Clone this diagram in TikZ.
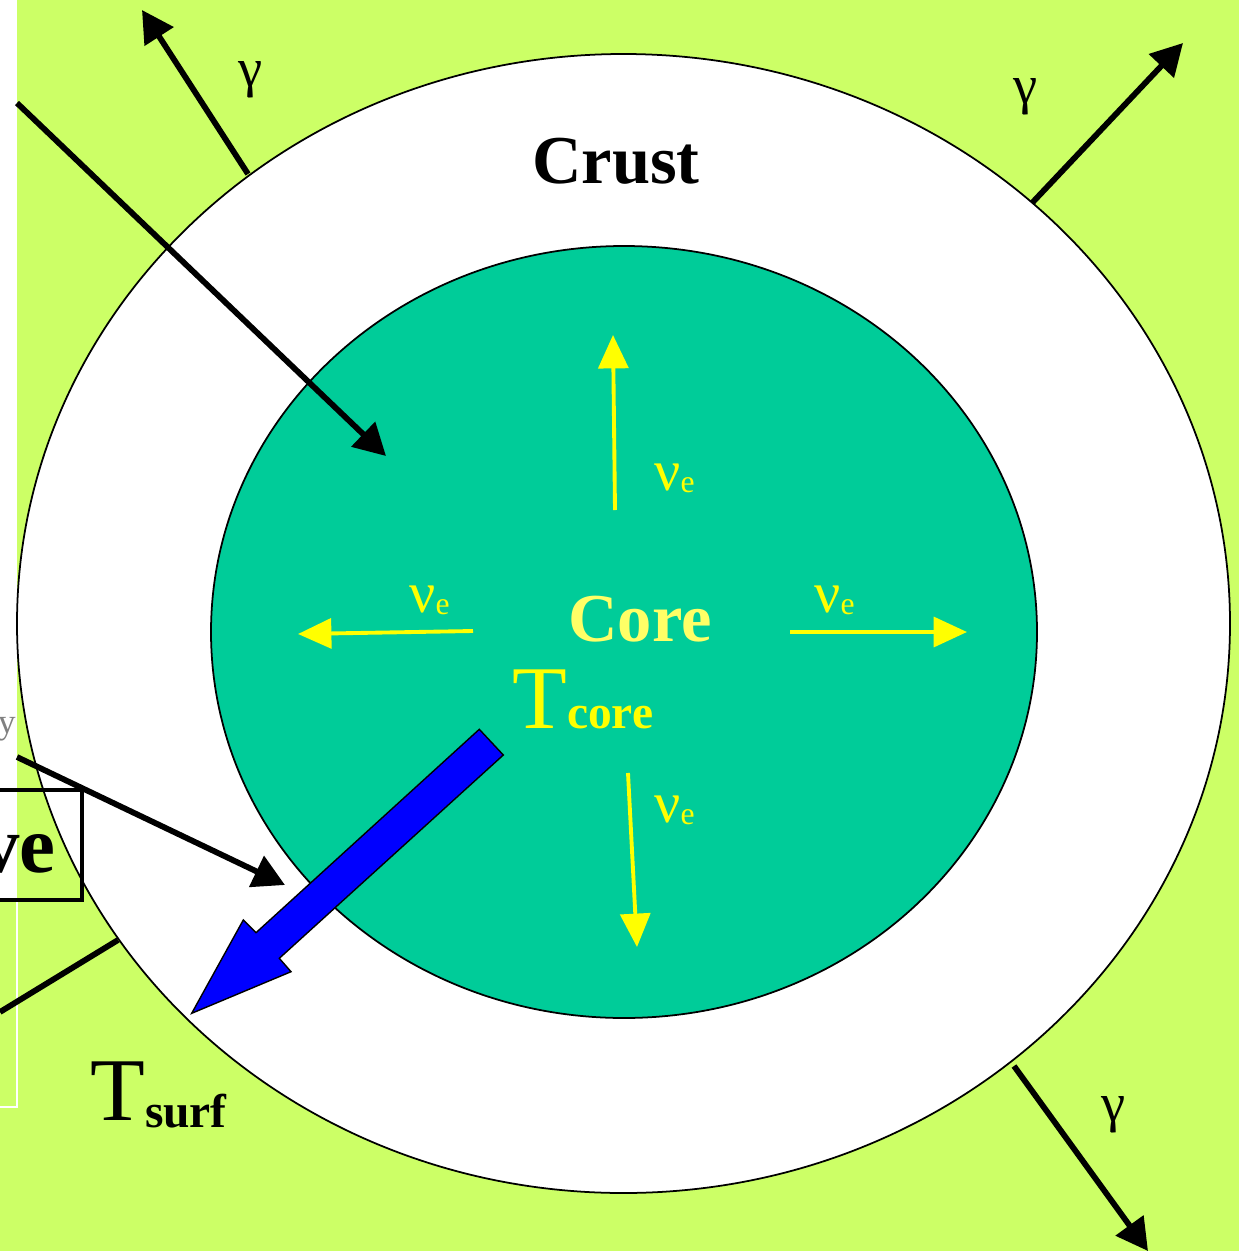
\documentclass[tikz,border=0pt]{standalone}
\usepackage{fontspec}
\setmainfont{Liberation Serif}
\usetikzlibrary{arrows.meta}
\definecolor{bggreen}{HTML}{CCFF66}
\definecolor{coregreen}{HTML}{00CC99}
\definecolor{nuyellow}{HTML}{FFFF00}
\definecolor{coreyellow}{HTML}{FFFF66}
\definecolor{arrblue}{HTML}{0000FF}
\newcommand{\nue}{{\fontsize{33}{33}\selectfont ν}{\fontsize{18}{18}\selectfont\raisebox{-1.5pt}{e}}}
\begin{document}
\begin{tikzpicture}[x=0.02cm,y=-0.02cm,
  blackarrow/.style={line width=3.3pt,-{Triangle[length=18pt,width=19pt]}},
  plainline/.style={line width=3.3pt},
  yelarrow/.style={draw=nuyellow,line width=2.2pt,-{Triangle[length=19pt,width=17pt]}},
  gammalbl/.style={font=\fontsize{31}{31}\selectfont,inner sep=0pt,anchor=center},
  nulbl/.style={text=nuyellow,inner sep=0pt,anchor=base west},
  bigbold/.style={font=\fontsize{39}{40}\selectfont\bfseries,inner sep=0pt,anchor=base},
  tlbl/.style={inner sep=0pt,anchor=base west}]
\useasboundingbox (0,0) rectangle (1239,1251);
\clip (0,0) rectangle (1239,1251);
% background
\fill[bggreen] (0,0) rectangle (1239,1251);
% left strip
\fill[white] (0,0) rectangle (17,900);
\draw[white,line width=0.6pt] (17,900) -- (17,1107) -- (0,1107);
% crust and core
\draw[fill=white,line width=1pt] (623.5,623.5) ellipse [x radius=606.5,y radius=569.5];
\draw[fill=coregreen,line width=1pt] (624,632) ellipse [x radius=413,y radius=386];
% coordinates
\coordinate (g1s) at (248,174);
\coordinate (g1e) at (142,10);
\coordinate (g2s) at (1032,203);
\coordinate (g2e) at (1183,43);
\coordinate (g3s) at (1014,1066);
\coordinate (g3e) at (1148,1251);
\coordinate (d1s) at (17,103);
\coordinate (d1e) at (386,456);
\coordinate (d2s) at (17,757);
\coordinate (d2e) at (285,885);
\coordinate (d3s) at (0,1012);
\coordinate (d3e) at (118,940);
\coordinate (yus) at (615,510);
\coordinate (yue) at (613,335);
\coordinate (yls) at (473,631);
\coordinate (yle) at (298,634);
\coordinate (yrs) at (790,632);
\coordinate (yre) at (967,632);
\coordinate (yds) at (628,773);
\coordinate (yde) at (637,947);
% gamma arrows
\draw[blackarrow] (g1s) -- (g1e);
\draw[blackarrow] (g2s) -- (g2e);
\draw[blackarrow] (g3s) -- (g3e);
\node[gammalbl] (gam1) at (251,80) {γ};
\node[gammalbl] (gam2) at (1026,97) {γ};
\node[gammalbl] (gam3) at (1114,1115) {γ};
% incoming arrows
\draw[blackarrow] (d1s) -- (d1e);
\draw[blackarrow] (d2s) -- (d2e);
\draw[plainline] (d3s) -- (d3e);
% box with partial text
\node[inner sep=0pt,anchor=base east,text=gray,font=\fontsize{20}{20}\selectfont] (ylbl) at (16,733) {y};
\draw[line width=2.2pt] (-20,790) rectangle (82,900);
\node[inner sep=0pt,anchor=base east,font=\fontsize{46}{46}\selectfont\bfseries] (ve) at (56,872) {ve};
% yellow neutrino arrows
\draw[yelarrow] (yus) -- (yue);
\draw[yelarrow] (yls) -- (yle);
\draw[yelarrow] (yrs) -- (yre);
\draw[yelarrow] (yds) -- (yde);
\node[nulbl] (nu1) at (654,490) {\nue};
\node[nulbl] (nu2) at (409,612) {\nue};
\node[nulbl] (nu3) at (814,612) {\nue};
\node[nulbl] (nu4) at (654,822) {\nue};
% labels
\node[bigbold] (crust) at (616,183) {Crust};
\node[bigbold,text=coreyellow] (core) at (640,641) {Core};
\node[tlbl,text=nuyellow] (tcore) at (512,728) {{\fontsize{51}{51}\selectfont T}{\fontsize{27}{27}\selectfont\bfseries core}};
\node[tlbl] (tsurf) at (90,1120) {{\fontsize{51}{51}\selectfont T}{\fontsize{27}{27}\selectfont\bfseries\raisebox{-4.5pt}{surf}}};
% blue block arrow
\draw[fill=arrblue,line width=0.8pt,line join=miter]
  (479.3,729.3) -- (503.3,755) -- (279.3,958.3) -- (291,971.7) -- (191.7,1013.3)
  -- (243.3,920) -- (256,932.7) -- cycle;
\end{tikzpicture}
\end{document}
